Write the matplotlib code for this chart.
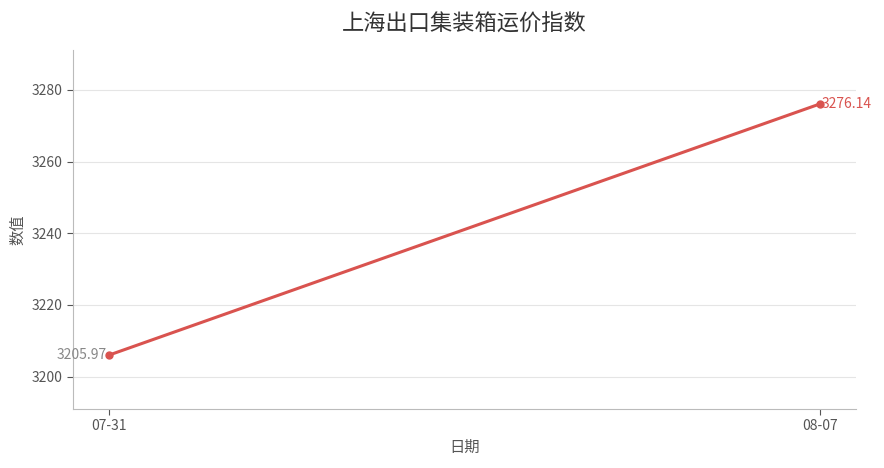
import matplotlib
matplotlib.use("Agg")
import matplotlib.pyplot as plt

plt.rcParams['font.family'] = ['Noto Sans CJK SC', 'DejaVu Sans']

dates = ["07-31", "08-07"]
values = [3205.97, 3276.14]

line_color = "#d9534f"
fig = plt.figure(figsize=(8.84, 4.68), dpi=100)
ax = fig.add_axes([73 / 884, 1 - 409 / 468, 783 / 884, 359 / 468])

x = list(range(len(dates)))
ax.plot(x, values, color=line_color, linewidth=2.2, marker="o", markersize=5, zorder=3)

# 标注首尾数值
ax.annotate(f"{values[0]:.2f}", (x[0], values[0]), xytext=(-1, 0), textcoords="offset points",
            ha="right", va="center", fontsize=10, color="#888888")
ax.annotate(f"{values[-1]:.2f}", (x[-1], values[-1]), xytext=(1, 0), textcoords="offset points",
            ha="left", va="center", fontsize=10, color=line_color)

ax.set_xticks(x)
ax.set_xticklabels(dates)
ax.set_xlim(-0.05, 1.05)
ax.set_ylim(values[0] - 15, values[-1] + 15)
ax.set_yticks([3200, 3220, 3240, 3260, 3280])

ax.set_title("上海出口集装箱运价指数", fontsize=16, color="#333333", pad=14)
ax.set_xlabel("日期", fontsize=11, color="#555555")
ax.set_ylabel("数值", fontsize=11, color="#555555")

ax.grid(axis="y", color="#e5e5e5", linewidth=0.8)
ax.set_axisbelow(True)
for side in ["top", "right"]:
    ax.spines[side].set_visible(False)
for side in ["left", "bottom"]:
    ax.spines[side].set_color("#bbbbbb")
ax.tick_params(colors="#555555", labelsize=10, length=4)

fig.savefig("out.png", dpi=100)
